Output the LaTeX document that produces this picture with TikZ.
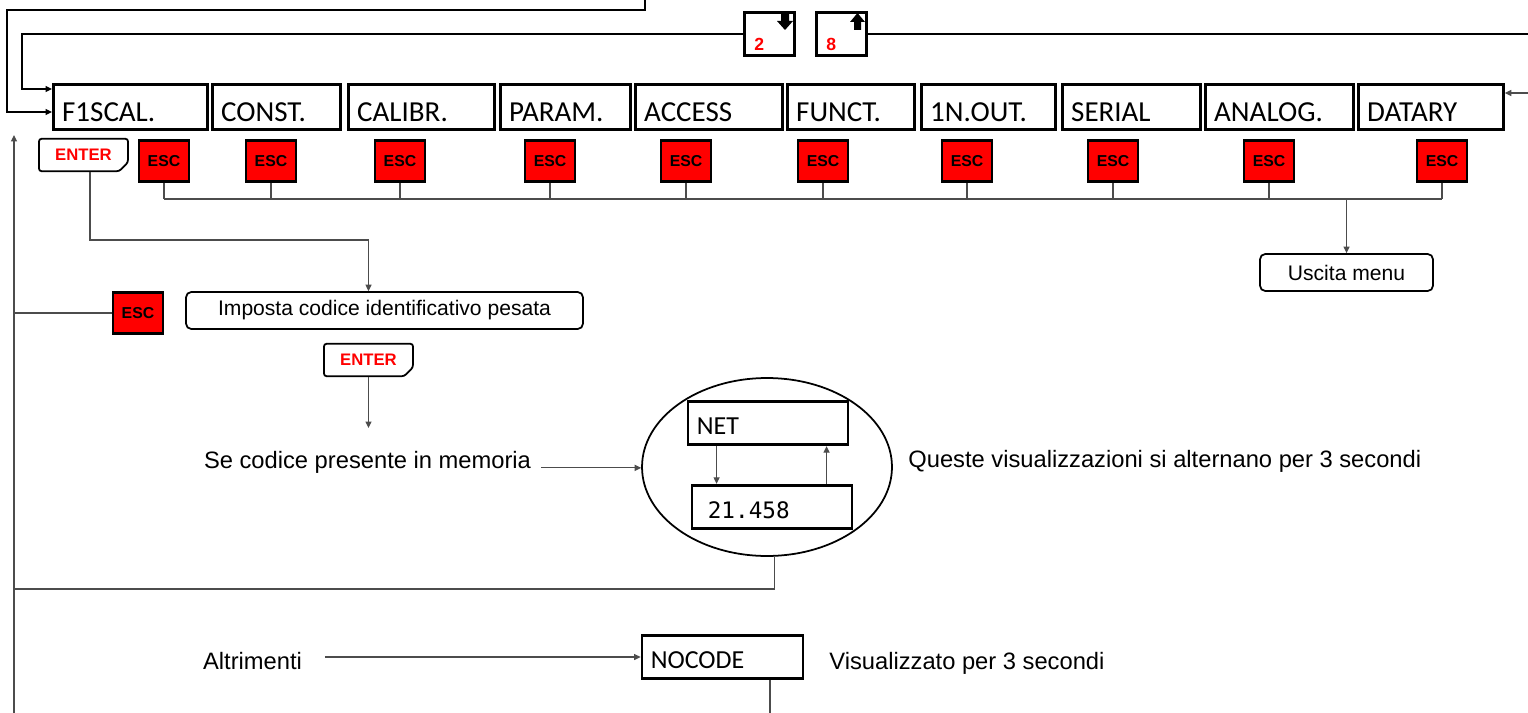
\documentclass[tikz,border=0pt]{standalone}
\usepackage{fontspec}
\setmainfont{Liberation Sans}
\newfontfamily\menufont{Carlito}
\newfontfamily\lcdmono{DejaVu Sans Mono}
\usepackage{tikz}
\usetikzlibrary{shapes.geometric,shapes.misc,arrows.meta,calc}
\tikzset{
  menu/.style={rectangle, draw, line width=1.6pt, minimum height=0.9cm, text width=#1-10pt,
               inner xsep=5pt, align=left, anchor=north west, text height=0.62cm, text depth=0.04cm,
               font=\menufont\fontsize{16.5}{18}\selectfont},
  esc/.style={rectangle, draw, line width=1.6pt, fill=red, minimum width=1cm,
              minimum height=0.83cm, inner sep=0pt, font=\bfseries\fontsize{9}{10}\selectfont},
  enterkey/.style={chamfered rectangle, chamfered rectangle corners=south east,
              chamfered rectangle xsep=2.5pt, chamfered rectangle ysep=2.5pt, draw, line width=1pt,
              rounded corners=1.5pt, minimum width=1.78cm, minimum height=0.65cm, inner sep=0pt,
              text=red, font=\bfseries\fontsize{9.5}{10}\selectfont},
  keycap/.style={rectangle, draw, line width=1.6pt, minimum width=1cm, minimum height=0.87cm},
  keynum/.style={inner sep=0pt, anchor=south west, text=red, font=\bfseries\fontsize{10}{12}\selectfont},
  rbox/.style={rectangle, draw, line width=1pt, rounded corners=3pt, minimum height=0.74cm,
               font=\fontsize{12}{14}\selectfont},
  lcd/.style={rectangle, draw, line width=1.6pt, minimum height=0.87cm, text width=#1-10pt,
              inner xsep=5pt, align=left, text height=0.48cm, text depth=0.04cm,
              font=\menufont\fontsize{14.8}{17}\selectfont},
  note/.style={inner sep=0pt, font=\fontsize{13.5}{16}\selectfont},
  conn/.style={draw=black!70, line width=0.7pt},
  arr/.style={conn, -{Triangle[length=1.3mm, width=1.2mm]}}
}
\begin{document}
\begin{tikzpicture}[x=0.02cm, y=-0.02cm]
  \useasboundingbox (0,0) rectangle (1528,713);
  % menu row
  \node[menu=3.08cm] (f1) at (52,83) {F1SCAL.};
  \node[menu=2.56cm] (const) at (211,83) {CONST.};
  \node[menu=2.92cm] (calib) at (347,83) {CALIBR.};
  \node[menu=2.6cm] (param) at (499,83) {PARAM.};
  \node[menu=2.94cm] (access) at (634,83) {ACCESS};
  \node[menu=2.54cm] (funct) at (786,83) {FUNCT.};
  \node[menu=2.68cm] (inout) at (920,83) {1N.OUT.};
  \node[menu=2.76cm] (serial) at (1061,83) {SERIAL};
  \node[menu=2.96cm] (analog) at (1204,83) {ANALOG.};
  \node[menu=2.9cm] (datary) at (1357,83) {DATARY};
  % scroll keys
  \node[keycap] (k2) at (769.5,34) {};
  \node[keycap] (k8) at (841.5,34) {};
  \node[keynum] (d2) at ([shift={(11,-6)}]k2.south west) {2};
  \node[keynum] (d8) at ([shift={(11,-6)}]k8.south west) {8};
  \fill (781,13) -- (789,13) -- (789,21) -- (793,21) -- (785,30) -- (777,21) -- (781,21) -- cycle;
  \fill (854,30) -- (861,30) -- (861,22) -- (865,22) -- (857.5,13) -- (850,22) -- (854,22) -- cycle;
  \coordinate (topin) at (645,0);
  \coordinate (rout) at (1528,34);
  \coordinate (rin) at (1528,93);
  \draw[arr, draw=black] (topin) |- (7,10) |- (f1.west |- 0,112);
  \draw[arr, draw=black] (k2.west) -| (22,89) -- (f1.west |- 0,89);
  \draw[conn, draw=black] (k8.east) -- (rout);
  \draw[arr] (rin) -- (datary.east |- rin);
  % esc keys and exit
  \foreach \i/\x in {1/164,2/271,3/400,4/550,5/686,6/823,7/967,8/1113,9/1269,10/1442}
    \node[esc] (e\i) at (\x,161) {ESC};
  \foreach \i in {1,...,10} \draw[conn] (e\i.south) -- (e\i.south |- 0,199);
  \draw[conn] (e1.south |- 0,199) -- (e10.south |- 0,199);
  \node[rbox, minimum width=3.46cm] (uscita) at (1346.5,272.5) {Uscita menu};
  \draw[arr] (uscita.north |- 0,199) -- (uscita.north);
  % weighing code
  \node[enterkey] (ent1) at (83.5,155) {ENTER};
  \node[rbox, minimum width=7.94cm] (imposta) at (384.5,310.5) {Imposta codice identificativo pesata};
  \node[esc] (escb) at (138,313) {ESC};
  \node[enterkey] (ent2) at (368.5,360) {ENTER};
  \draw[arr] ([xshift=0.13cm]ent1.south) |- (ent2.north |- 0,240) -- (ent2.north |- imposta.north);
  \draw[arr] (ent2.south) -- (ent2.south |- 0,428);
  \node[note, anchor=base] (secod) at (367.5,468) {Se codice presente in memoria};
  \node[ellipse, draw, line width=1pt, minimum width=5cm, minimum height=3.56cm] (disp) at (767,467) {};
  \node[lcd=3.2cm] (net) at (768,423) {NET};
  \node[lcd=3.2cm, font=\lcdmono\fontsize{12.9}{15}\selectfont] (val) at (772,507) {\hspace*{4pt}21.458};
  \draw[arr] (secod.east) ++(0.2cm,-0.12cm) coordinate (sx) -- (disp.west |- sx);
  \draw[arr] ([xshift=0.6cm]net.south west) -- ([xshift=0.6cm]net.south west |- val.north);
  \draw[arr] ([xshift=2.72cm]val.north west) -- ([xshift=2.72cm]val.north west |- net.south);
  \node[note, anchor=base west] (queste) at (908,467) {Queste visualizzazioni si alternano per 3 secondi};
  \node[note, anchor=base] (altr) at (252.5,669) {Altrimenti};
  \node[lcd=3.22cm] (nocode) at (722.5,657) {NOCODE};
  \node[note, anchor=base west] (visu) at (829,669) {Visualizzato per 3 secondi};
  \draw[arr] ([xshift=0.45cm]altr.east |- nocode.west) -- (nocode.west);
  % return line
  \coordinate (lbot) at (14,713);
  \coordinate (ltop) at (14,135);
  \coordinate (nbot) at (770,713);
  \draw[arr] (lbot) -- (ltop);
  \draw[conn] (escb.west) -- (escb.west -| lbot);
  \draw[conn] (disp.-85) |- (lbot |- 0,589);
  \draw[conn] (nbot |- nocode.south) -- (nbot);
\end{tikzpicture}
\end{document}
